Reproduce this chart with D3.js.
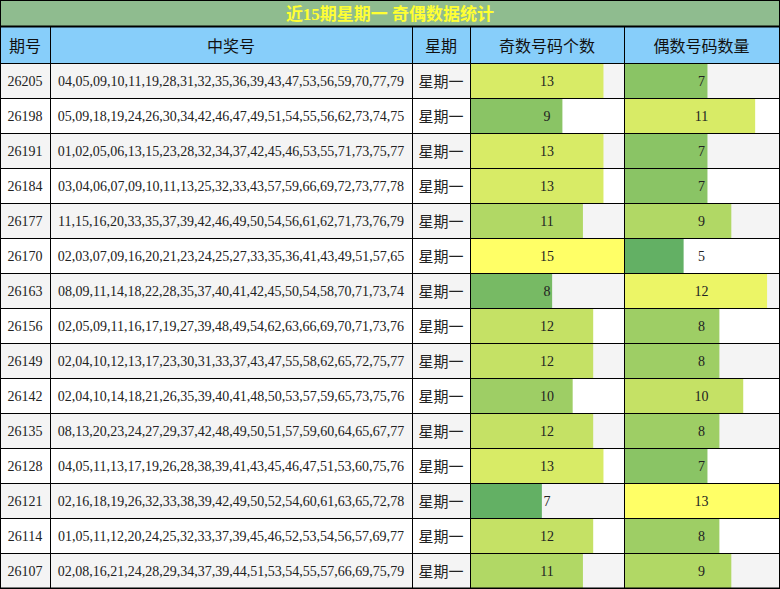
<!DOCTYPE html>
<html><head><meta charset="utf-8">
<script src="https://cdn.jsdelivr.net/npm/d3@7"></script>
<style>body{margin:0;background:#fff}</style>
</head><body><svg width="780" height="589"></svg>
<script>
// data
let periods = ["26205","26198","26191","26184","26177","26170","26163","26156","26149","26142","26135","26128","26121","26114","26107"];
let numbers = [
"04,05,09,10,11,19,28,31,32,35,36,39,43,47,53,56,59,70,77,79",
"05,09,18,19,24,26,30,34,42,46,47,49,51,54,55,56,62,73,74,75",
"01,02,05,06,13,15,23,28,32,34,37,42,45,46,53,55,71,73,75,77",
"03,04,06,07,09,10,11,13,25,32,33,43,57,59,66,69,72,73,77,78",
"11,15,16,20,33,35,37,39,42,46,49,50,54,56,61,62,71,73,76,79",
"02,03,07,09,16,20,21,23,24,25,27,33,35,36,41,43,49,51,57,65",
"08,09,11,14,18,22,28,35,37,40,41,42,45,50,54,58,70,71,73,74",
"02,05,09,11,16,17,19,27,39,48,49,54,62,63,66,69,70,71,73,76",
"02,04,10,12,13,17,23,30,31,33,37,43,47,55,58,62,65,72,75,77",
"02,04,10,14,18,21,26,35,39,40,41,48,50,53,57,59,65,73,75,76",
"08,13,20,23,24,27,29,37,42,48,49,50,51,57,59,60,64,65,67,77",
"04,05,11,13,17,19,26,28,38,39,41,43,45,46,47,51,53,60,75,76",
"02,16,18,19,26,32,33,38,39,42,49,50,52,54,60,61,63,65,72,78",
"01,05,11,12,20,24,25,32,33,37,39,45,46,52,53,54,56,57,69,77",
"02,08,16,21,24,28,29,34,37,39,44,51,53,54,55,57,66,69,75,79"];
let oddCounts = [13,9,13,13,11,15,8,12,12,10,12,13,7,12,11];
let evenCounts = [7,11,7,7,9,5,12,8,8,10,8,7,13,8,9];
let headers = ["期号","中奖号","星期","奇数号码个数","偶数号码数量"];
let title = "近15期星期一 奇偶数据统计";

let svg = d3.select("svg");
let font = "'Liberation Serif','Noto Sans CJK SC',serif";
let colX = [0,50,412,470,624,779];
let titleH = 26, headTop = 27, headH = 36, rowH = 35;
let y = d3.scaleBand().domain(d3.range(periods.length)).range([headTop+headH, headTop+headH+rowH*periods.length]);

// title
svg.append("rect").attr("x",0).attr("y",0).attr("width",780).attr("height",titleH+1).attr("fill","#8fbc8f");
svg.append("text").attr("x",390).attr("y",titleH/2+1).attr("text-anchor","middle").attr("dominant-baseline","central")
  .attr("font-family",font).attr("font-size",17).attr("font-weight","bold").attr("fill","#ffff33").text(title);

// header
svg.append("rect").attr("x",0).attr("y",headTop).attr("width",780).attr("height",headH).attr("fill","#87cefa");
headers.forEach((h,i) => {
  svg.append("text").attr("x",(colX[i]+colX[i+1])/2).attr("y",headTop+headH/2+1)
    .attr("text-anchor","middle").attr("dominant-baseline","central")
    .attr("font-family",font).attr("font-size",16).attr("fill","#111").text(h);
});

let rows = svg.selectAll(".row").data(periods).enter().append("g").attr("class","row")
  .attr("transform",(d,i)=>`translate(0,${y(i)})`);
rows.append("rect").attr("width",780).attr("height",rowH).attr("fill",(d,i)=> i%2==0 ? "#f4f4f4" : "#ffffff");

function barCol(counts, c) {
  let w = d3.scaleLinear().domain([0, d3.max(counts)]).range([0, colX[c+1]-colX[c]]);
  let col = d3.scaleLinear().domain([d3.min(counts), d3.max(counts)]).range(["#63b064","#ffff66"]);
  rows.append("rect").attr("x",colX[c]).attr("y",1).attr("height",rowH-1)
    .attr("width",(d,i)=>w(counts[i])).attr("fill",(d,i)=>col(counts[i]));
  rows.append("text").attr("x",(colX[c]+colX[c+1])/2).attr("y",rowH/2+1)
    .attr("text-anchor","middle").attr("dominant-baseline","central")
    .attr("font-family",font).attr("font-size",14).attr("fill","#222").text((d,i)=>counts[i]);
}
barCol(oddCounts,3);
barCol(evenCounts,4);

let cellText = (c, f, size) => rows.append("text").attr("x",(colX[c]+colX[c+1])/2).attr("y",rowH/2+1)
  .attr("text-anchor","middle").attr("dominant-baseline","central")
  .attr("font-family",font).attr("font-size",size).attr("fill","#222").text(f);
cellText(0, d=>d, 14);
cellText(1, (d,i)=>numbers[i], 14);
cellText(2, ()=>"星期一", 15);

// grid lines
let bottom = y.range()[1];
svg.append("line").attr("x1",0).attr("x2",780).attr("y1",headTop-0.5).attr("y2",headTop-0.5).attr("stroke","#000").attr("stroke-width",2);
[headTop+headH].concat(d3.range(1,periods.length).map(i=>y(i))).concat([bottom-0.5]).forEach(yy=>{
  svg.append("line").attr("x1",0).attr("x2",780).attr("y1",yy+0.5).attr("y2",yy+0.5).attr("stroke","#000");
});
colX.forEach(x=>{
  let xx = Math.min(x,779)+0.5;
  svg.append("line").attr("x1",xx).attr("x2",xx).attr("y1",headTop).attr("y2",bottom).attr("stroke","#000");
});
svg.append("rect").attr("x",0.5).attr("y",0.5).attr("width",779).attr("height",588).attr("fill","none").attr("stroke","#000");
</script></body></html>
